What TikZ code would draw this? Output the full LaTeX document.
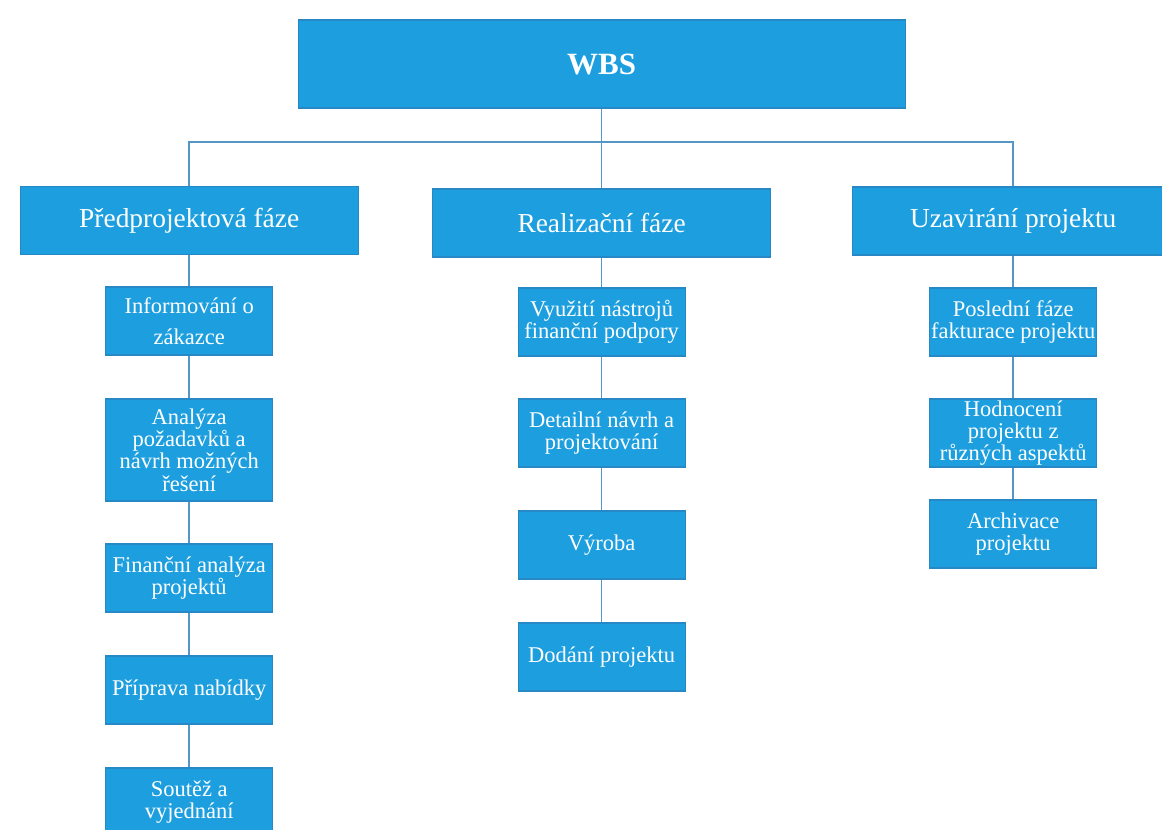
\documentclass[tikz,border=0pt]{standalone}
\usepackage{fontspec}
\setmainfont{Liberation Serif}
\usetikzlibrary{positioning}
\definecolor{wbsfill}{RGB}{29,159,223}
\definecolor{wbsedge}{RGB}{38,136,196}
\definecolor{wbsline}{RGB}{84,150,198}

\begin{document}
\begin{tikzpicture}[
  box/.style={draw=wbsedge,fill=wbsfill,line width=0.8pt,text=white,align=center,inner sep=0pt},
  root/.style={box,minimum width=15.175cm,minimum height=2.2cm,font=\fontsize{22}{26}\selectfont\bfseries},
  phase/.style={box,minimum width=8.45cm,minimum height=1.7cm,font=\fontsize{19.5}{23}\selectfont},
  task/.style={box,minimum width=4.175cm,minimum height=1.7cm,font=\fontsize{16}{15.8}\selectfont},
  link/.style={draw=wbsline,line width=1.1pt}]
  \useasboundingbox (0,0) rectangle (29.05,-20.725);
  % ===================== koren =====================
  \node[root] (wbs) at (15.04,-1.6) {WBS};
  \coordinate (bus) at (15.04,-3.55);
  % ===================== faze =====================
  \node[phase] (pre) at (4.73,-5.51) {Předprojektová fáze};
  \node[phase] (real) at (15.04,-5.575) {Realizační fáze};
  \node[phase,minimum width=8.05cm] (uza) at (25.33,-5.525) {Uzavirání projektu};
  % ---------- predprojektova faze ----------
  \node[task] (a1) at (4.73,-8.025) {Informování o\\[6pt]zákazce};
  \node[task,minimum height=2.55cm] (a2) at (4.73,-11.25) {Analýza\\požadavků a\\návrh možných\\řešení};
  \node[task] (a3) at (4.73,-14.45) {Finanční analýza\\projektů};
  \node[task] (a4) at (4.73,-17.25) {Příprava nabídky};
  \node[task] (a5) at (4.73,-20.05) {Soutěž a\\vyjednání};
  % ---------- realizacni faze ----------
  \node[task] (b1) at (15.04,-8.05) {Využití nástrojů\\finanční podpory};
  \node[task] (b2) at (15.04,-10.825) {Detailní návrh a\\projektování};
  \node[task] (b3) at (15.04,-13.625) {Výroba};
  \node[task] (b4) at (15.04,-16.425) {Dodání projektu};
  % ---------- uzavirani projektu ----------
  \node[task] (c1) at (25.33,-8.05) {Poslední fáze\\fakturace projektu};
  \node[task] (c2) at (25.33,-10.825) {Hodnocení\\projektu z\\různých aspektů};
  \node[task] (c3) at (25.33,-13.35) {Archivace\\projektu};
  % ---------- spojnice ----------
  \draw[link] (wbs.south) -- (bus) -- (real.north);
  \draw[link] (pre.north) |- (bus) -| (uza.north);
  \foreach \a/\b in {pre/a1,a1/a2,a2/a3,a3/a4,a4/a5,real/b1,b1/b2,b2/b3,b3/b4,uza/c1,c1/c2,c2/c3}
    \draw[link] (\a.south) -- (\b.north);
\end{tikzpicture}
\end{document}
